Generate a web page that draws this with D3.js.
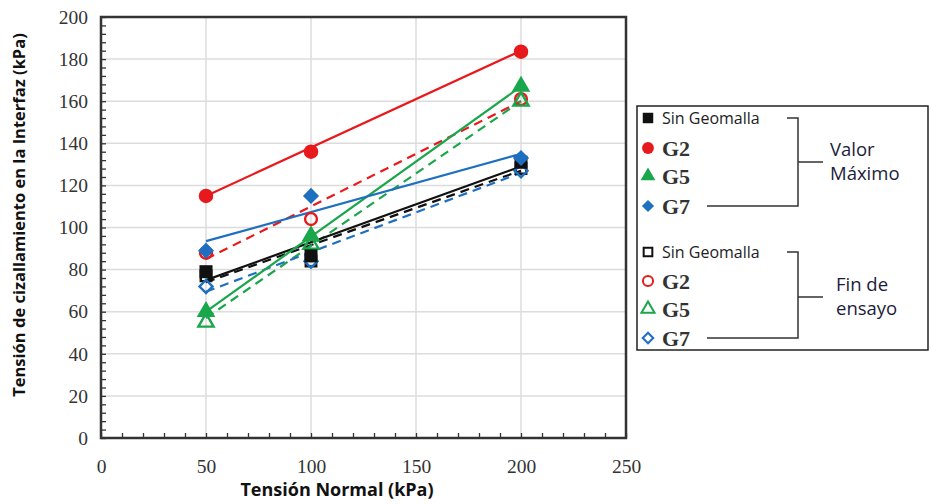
<!DOCTYPE html>
<html><head><meta charset="utf-8">
<script src="https://cdn.jsdelivr.net/npm/d3@7"></script>
<style>body{margin:0;background:#fff}svg{display:block}</style>
</head><body><svg id="c" width="931" height="504"></svg>
<script>
const xValues = [50, 100, 200];
const seriesNames = ["Sin Geomalla", "G2", "G5", "G7"];
const seriesColors = ["#111111", "#e8191c", "#1aa64a", "#1f6fc0"];
const seriesShapes = ["square", "circle", "triangle", "diamond"];
// Valor Máximo (filled markers, solid fit lines)
const maxSin = [79, 86.5, 131];
const maxG2 = [115, 136, 183.5];
const maxG5 = [60, 96, 167];
const maxG7 = [89, 115, 133];
// Fin de ensayo (open markers, dashed fit lines)
const endSin = [77, 84, 128];
const endG2 = [88, 104, 161];
const endG5 = [55, 92, 160];
const endG7 = [72, 84, 127];
// fitted line end values at x = 50 and x = 200
const fitX = [50, 200];
const fitMax = [[75, 129], [115, 184], [60, 167], [93.5, 135]];
const fitEnd = [[74, 127], [85, 160], [57, 160], [69.5, 126]];
const xTicks = [0, 50, 100, 150, 200, 250];
const yTicks = [0, 20, 40, 60, 80, 100, 120, 140, 160, 180, 200];

const svg = d3.select("#c");
const x = d3.scaleLinear().domain([0, 250]).range([101, 626]);
const y = d3.scaleLinear().domain([0, 200]).range([438, 17]);

// grid
svg.append("g").selectAll("line").data(yTicks.slice(1, -1)).join("line")
  .attr("x1", x(0)).attr("x2", x(250)).attr("y1", d => y(d)).attr("y2", d => y(d))
  .attr("stroke", "#dcdcdc").attr("stroke-width", 1.5);
svg.append("g").selectAll("line").data(xTicks.slice(1, -1)).join("line")
  .attr("y1", y(0)).attr("y2", y(200)).attr("x1", d => x(d)).attr("x2", d => x(d))
  .attr("stroke", "#dcdcdc").attr("stroke-width", 1.5);

// axes with inward minor ticks
const axB = svg.append("g").attr("transform", `translate(0,${y(0)})`)
  .call(d3.axisBottom(x).tickValues(d3.range(0, 251, 10)).tickSize(-5).tickFormat(""));
const axL = svg.append("g").attr("transform", `translate(${x(0)},0)`)
  .call(d3.axisLeft(y).tickValues(d3.range(0, 201, 4)).tickSize(-5).tickFormat(""));
[axB, axL].forEach(a => { a.select(".domain").remove(); a.selectAll("line").attr("stroke", "#333").attr("stroke-width", 1.3); });
const axB2 = svg.append("g").attr("transform", `translate(0,${y(0)})`)
  .call(d3.axisBottom(x).tickValues(xTicks).tickSize(0).tickPadding(21));
const axL2 = svg.append("g").attr("transform", `translate(${x(0)},0)`)
  .call(d3.axisLeft(y).tickValues(yTicks).tickSize(0).tickPadding(13));
[axB2, axL2].forEach(a => {
  a.select(".domain").remove();
  a.selectAll("text").attr("font-family", "Liberation Serif, serif").attr("font-size", 19.5).attr("fill", "#333");
});

// frame
svg.append("rect").attr("x", x(0)).attr("y", y(200)).attr("width", x(250) - x(0)).attr("height", y(0) - y(200))
  .attr("fill", "none").attr("stroke", "#333").attr("stroke-width", 2.5);

// symbols (diamond = square rotated 45°)
const symType = { square: d3.symbolSquare, circle: d3.symbolCircle, triangle: d3.symbolTriangle, diamond: d3.symbolSquare };
function symPath(shape, open) {
  const sizes = open ? { square: 110, circle: 110, triangle: 100, diamond: 85 } : { square: 170, circle: 165, triangle: 150, diamond: 130 };
  return d3.symbol().type(symType[shape]).size(sizes[shape])();
}
const rot = s => s === "diamond" ? " rotate(45)" : "";

const maxData = [maxSin, maxG2, maxG5, maxG7];
const endData = [endSin, endG2, endG5, endG7];
const line = d3.line().x(d => x(d[0])).y(d => y(d[1]));

// dashed lines
fitEnd.forEach((f, i) => {
  svg.append("path").attr("d", line(fitX.map((xv, j) => [xv, f[j]])))
    .attr("stroke", seriesColors[i]).attr("stroke-width", 2.2).attr("fill", "none")
    .attr("stroke-dasharray", "9,6");
});
// solid lines
fitMax.forEach((f, i) => {
  svg.append("path").attr("d", line(fitX.map((xv, j) => [xv, f[j]])))
    .attr("stroke", seriesColors[i]).attr("stroke-width", 2.2).attr("fill", "none");
});
// open markers
endData.forEach((vals, i) => {
  svg.append("g").selectAll("path").data(vals).join("path")
    .attr("d", symPath(seriesShapes[i], true))
    .attr("transform", (d, j) => `translate(${x(xValues[j])},${y(d)})` + rot(seriesShapes[i]))
    .attr("fill", "none").attr("stroke", seriesColors[i]).attr("stroke-width", 2.4);
});
// filled markers
maxData.forEach((vals, i) => {
  svg.append("g").selectAll("path").data(vals).join("path")
    .attr("d", symPath(seriesShapes[i], false))
    .attr("transform", (d, j) => `translate(${x(xValues[j])},${y(d)})` + rot(seriesShapes[i]))
    .attr("fill", seriesColors[i]);
});

// axis titles
svg.append("text").attr("x", 337).attr("y", 496).attr("text-anchor", "middle")
  .attr("font-family", "Open Sans, sans-serif").attr("font-weight", "bold").attr("font-size", 18).attr("fill", "#111")
  .text("Tensión Normal (kPa)");
svg.append("text").attr("transform", "translate(25,215) rotate(-90)").attr("text-anchor", "middle")
  .attr("font-family", "Open Sans, sans-serif").attr("font-weight", "bold").attr("font-size", 16.5).attr("fill", "#111")
  .text("Tensión de cizallamiento en la Interfaz (kPa)");

// legend
const lg = svg.append("g");
lg.append("rect").attr("x", 637).attr("y", 106).attr("width", 291).attr("height", 244)
  .attr("fill", "#fff").attr("stroke", "#222").attr("stroke-width", 1.5);
const rowsY = [[118, 148, 176, 206], [252, 281, 309, 338]];
const legSizes = [[110, 110, 95, 75], [75, 80, 75, 55]];
[0, 1].forEach(g => {
  seriesNames.forEach((name, i) => {
    const yy = rowsY[g][i];
    lg.append("path").attr("d", d3.symbol().type(symType[seriesShapes[i]]).size(legSizes[g][i])())
      .attr("transform", `translate(648,${yy})` + rot(seriesShapes[i]))
      .attr("fill", g === 0 ? seriesColors[i] : "none")
      .attr("stroke", g === 0 ? "none" : seriesColors[i]).attr("stroke-width", 2);
    const t = lg.append("text").attr("x", 662).attr("y", yy + 6).attr("fill", "#222").text(name);
    if (i === 0) t.attr("font-family", "Open Sans, sans-serif").attr("font-size", 16);
    else t.attr("font-family", "Liberation Serif, serif").attr("font-size", 22).attr("font-weight", "bold").attr("fill", "#333").attr("y", yy + 8);
  });
  const r = rowsY[g];
  const mid = g === 0 ? 162 : 297;
  lg.append("path").attr("d", `M787,${r[0]}H798V${r[3]}H707M798,${mid}H823`)
    .attr("fill", "none").attr("stroke", "#333").attr("stroke-width", 1.5);
});
const lab = [["Valor", "Máximo"], ["Fin de", "ensayo"]];
[[830, 156, 180], [836, 291, 315]].forEach((p, g) => {
  lab[g].forEach((s, k) => {
    lg.append("text").attr("x", p[0]).attr("y", k === 0 ? p[1] : p[2])
      .attr("font-family", "Open Sans, sans-serif").attr("font-size", 18.5).attr("fill", "#1c1c3a").text(s);
  });
});
</script></body></html>
